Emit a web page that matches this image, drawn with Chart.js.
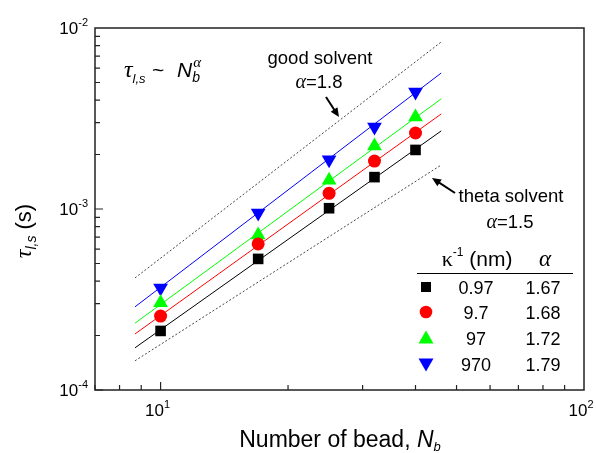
<!DOCTYPE html>
<html>
<head>
<meta charset="utf-8">
<script src="https://cdn.jsdelivr.net/npm/chart.js@4/dist/chart.umd.min.js"></script>
<style>
  body { margin: 0; background: #fff; }
  canvas { display: block; }
</style>
</head>
<body>
<canvas id="c" width="596" height="453"></canvas>
<script>
// data
const beads = [10, 17, 25, 32, 40];
const tau097 = [2.12e-4, 5.30e-4, 1.01e-3, 1.50e-3, 2.12e-3];
const tau9_7 = [2.56e-4, 6.41e-4, 1.22e-3, 1.84e-3, 2.63e-3];
const tau97 = [3.03e-4, 7.18e-4, 1.44e-3, 2.23e-3, 3.22e-3];
const tau970 = [3.66e-4, 9.50e-4, 1.87e-3, 2.84e-3, 4.43e-3];

// fitted lines, end points
const fitX = [8.7, 46];
const fit097 = [1.71e-4, 2.70e-3];
const fit9_7 = [2.04e-4, 3.35e-3];
const fit97 = [2.34e-4, 4.06e-3];
const fit970 = [2.88e-4, 5.64e-3];
const goodSolvent = [4.16e-4, 8.37e-3];
const thetaSolvent = [1.45e-4, 1.75e-3];

const kappaInv = ['0.97', '9.7', '97', '970'];
const alphaFit = ['1.67', '1.68', '1.72', '1.79'];
const colors = ['#000000', '#ff0000', '#00ff00', '#0000ff'];

const xDecades = [10, 100];
const yDecades = [1e-4, 1e-3, 1e-2];

const pts = (xs, ys) => xs.map((x, i) => ({ x: x, y: ys[i] }));

const SANS = '"Liberation Sans", Arial, sans-serif';
const SERIF = '"Liberation Serif", "Times New Roman", serif';

function marker(label, ys, color, style, r, rot) {
    return { label: label, data: pts(beads, ys), showLine: false, pointStyle: style, pointRadius: r,
        pointRotation: rot || 0, backgroundColor: color, borderColor: color, borderWidth: 0, order: 0 };
}
function fitLine(ys, color, dash) {
    return { data: pts(fitX, ys), showLine: true, pointRadius: 0, borderColor: color, borderWidth: 1,
        borderDash: dash || [], order: 5 };
}

// draw a run of text pieces: [text, font, dy]; returns the end x
function rich(ctx, parts, x, y, align) {
    let w = 0;
    parts.forEach(p => { ctx.font = p[1]; w += ctx.measureText(p[0]).width; });
    let cx = align === 'center' ? x - w / 2 : align === 'right' ? x - w : x;
    ctx.textAlign = 'left';
    ctx.textBaseline = 'alphabetic';
    parts.forEach(p => { ctx.font = p[1]; ctx.fillText(p[0], cx, y + (p[2] || 0)); cx += ctx.measureText(p[0]).width; });
    return cx;
}

function arrow(ctx, x1, y1, x2, y2) {
    const a = Math.atan2(y2 - y1, x2 - x1), h = 9, w = 4;
    ctx.save();
    ctx.strokeStyle = '#000'; ctx.fillStyle = '#000'; ctx.lineWidth = 2;
    ctx.beginPath(); ctx.moveTo(x1, y1); ctx.lineTo(x2 - Math.cos(a) * h * 0.8, y2 - Math.sin(a) * h * 0.8); ctx.stroke();
    ctx.beginPath();
    ctx.moveTo(x2, y2);
    ctx.lineTo(x2 - Math.cos(a) * h + Math.sin(a) * w, y2 - Math.sin(a) * h - Math.cos(a) * w);
    ctx.lineTo(x2 - Math.cos(a) * h - Math.sin(a) * w, y2 - Math.sin(a) * h + Math.cos(a) * w);
    ctx.closePath(); ctx.fill();
    ctx.restore();
}

function legendMark(ctx, i, x, y) {
    ctx.fillStyle = colors[i];
    ctx.beginPath();
    if (i === 0) ctx.rect(x - 5, y - 5, 10, 10);
    else if (i === 1) ctx.arc(x, y, 6.3, 0, Math.PI * 2);
    else if (i === 2) { ctx.moveTo(x, y - 7.5); ctx.lineTo(x + 7.5, y + 5.5); ctx.lineTo(x - 7.5, y + 5.5); }
    else { ctx.moveTo(x, y + 7.5); ctx.lineTo(x + 7.5, y - 5.5); ctx.lineTo(x - 7.5, y - 5.5); }
    ctx.closePath(); ctx.fill();
}

const decor = {
    id: 'decor',
    afterDraw(chart) {
        const ctx = chart.ctx, a = chart.chartArea, sx = chart.scales.x, sy = chart.scales.y;
        ctx.save();
        // frame
        ctx.strokeStyle = '#222'; ctx.lineWidth = 1.5;
        ctx.strokeRect(a.left, a.top, a.right - a.left, a.bottom - a.top);

        // ticks, inward
        ctx.lineWidth = 1.2;
        ctx.beginPath();
        [1, 10].forEach(d => {
            for (let m = 1; m <= 9; m++) {
                const v = m * d;
                if (v < sx.min || v > sx.max) continue;
                const px = sx.getPixelForValue(v), len = m === 1 ? 8 : 5;
                ctx.moveTo(px, a.bottom); ctx.lineTo(px, a.bottom - len);
            }
        });
        [1e-4, 1e-3].forEach(d => {
            for (let m = 1; m <= 9; m++) {
                const py = sy.getPixelForValue(m * d), len = m === 1 ? 8 : 5;
                ctx.moveTo(a.left, py); ctx.lineTo(a.left + len, py);
            }
        });
        ctx.stroke();

        // tick labels
        ctx.fillStyle = '#000';
        const big = '17px ' + SANS, sup = '11px ' + SANS;
        xDecades.forEach(v => {
            const px = sx.getPixelForValue(v);
            rich(ctx, [['10', big], [String(Math.round(Math.log10(v))), sup, -8]], px - 3, a.bottom + 26, 'center');
        });
        yDecades.forEach(v => {
            const py = sy.getPixelForValue(v);
            rich(ctx, [['10', big], [String(Math.round(Math.log10(v))), sup, -8]], a.left - 7, py + 6, 'right');
        });

        // axis titles
        const title = '23px ' + SANS;
        rich(ctx, [['Number of bead, ', title], ['N', 'italic 23px ' + SANS], ['b', 'italic 13px ' + SANS, 4]],
            340, 447, 'center');
        ctx.save();
        ctx.translate(31, 231); ctx.rotate(-Math.PI / 2);
        rich(ctx, [['\u03C4', 'italic 24px ' + SERIF], ['l,s', 'italic 14px ' + SANS, 5], [' (s)', '22px ' + SANS]], 0, 0, 'center');
        ctx.restore();

        // power law
        rich(ctx, [['\u03C4', 'italic 24px ' + SERIF], ['l,s', 'italic 13px ' + SANS, 6]], 124, 77, 'left');
        rich(ctx, [['~', '21px ' + SANS]], 152, 77, 'left');
        const nEnd = rich(ctx, [['N', 'italic 21px ' + SANS]], 177, 77, 'left');
        rich(ctx, [['b', 'italic 14px ' + SANS]], nEnd, 82, 'left');
        rich(ctx, [['\u03B1', 'italic 15px ' + SERIF]], nEnd + 1, 67, 'left');

        // solvent notes
        const note = '18.5px ' + SANS;
        rich(ctx, [['good solvent', note]], 320, 64, 'center');
        rich(ctx, [['\u03B1', 'italic 20px ' + SERIF], ['=1.8', note]], 319, 88, 'center');
        arrow(ctx, 326, 97, 339, 117);
        rich(ctx, [['theta solvent', note]], 511, 202, 'center');
        rich(ctx, [['\u03B1', 'italic 20px ' + SERIF], ['=1.5', note]], 510, 228, 'center');
        arrow(ctx, 455, 193, 432, 178);

        // table legend
        rich(ctx, [['\u03BA', '22px ' + SERIF], ['-1', '12px ' + SANS, -10], [' (nm)', '21px ' + SANS]], 477, 266, 'center');
        rich(ctx, [['\u03B1', 'italic 23px ' + SERIF]], 545, 266, 'center');
        ctx.strokeStyle = '#000'; ctx.lineWidth = 1;
        ctx.beginPath(); ctx.moveTo(417, 273.5); ctx.lineTo(573, 273.5); ctx.stroke();
        const rowY = [294, 319, 345, 371];
        kappaInv.forEach((k, i) => {
            legendMark(ctx, i, 426, rowY[i] - 7);
            ctx.fillStyle = '#000';
            rich(ctx, [[k, '18px ' + SANS]], 476, rowY[i], 'center');
            rich(ctx, [[alphaFit[i], '18px ' + SANS]], 543, rowY[i], 'center');
        });
        ctx.restore();
    }
};

new Chart(document.getElementById('c'), {
    type: 'scatter',
    data: {
        datasets: [
            marker('0.97', tau097, colors[0], 'rect', 7.5),
            marker('9.7', tau9_7, colors[1], 'circle', 6.5),
            marker('97', tau97, colors[2], 'triangle', 8.5),
            marker('970', tau970, colors[3], 'triangle', 8.5, 180),
            fitLine(fit097, colors[0]),
            fitLine(fit9_7, colors[1]),
            fitLine(fit97, colors[2]),
            fitLine(fit970, colors[3]),
            fitLine(goodSolvent, '#444', [2, 2]),
            fitLine(thetaSolvent, '#444', [2, 2])
        ]
    },
    options: {
        responsive: false,
        animation: false,
        devicePixelRatio: 1,
        layout: { padding: { left: 95, top: 28, right: 12, bottom: 63 } },
        plugins: { legend: { display: false }, tooltip: { enabled: false } },
        scales: {
            x: { type: 'logarithmic', min: 7, max: 100, display: false },
            y: { type: 'logarithmic', min: 1e-4, max: 1e-2, display: false }
        }
    },
    plugins: [decor]
});
</script>
</body>
</html>
